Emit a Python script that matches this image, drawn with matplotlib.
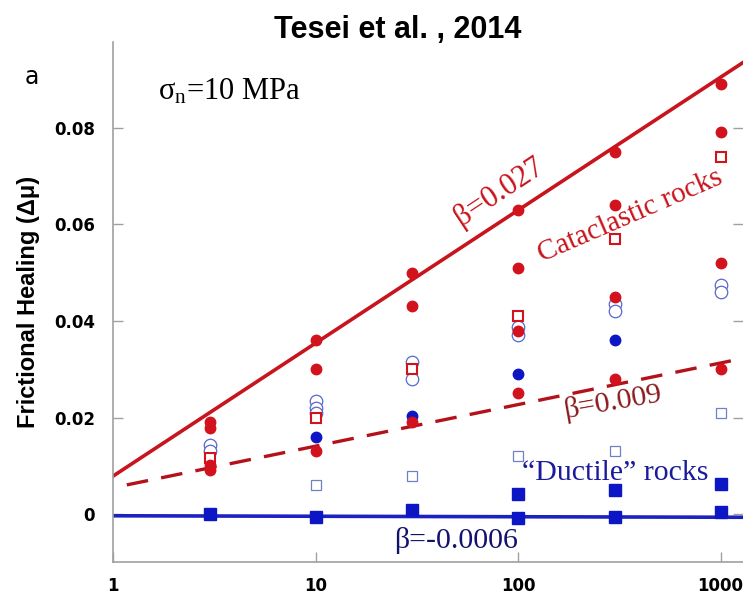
import numpy as np
import matplotlib
matplotlib.use("Agg")
import matplotlib.pyplot as plt
from matplotlib.ticker import FixedLocator, FixedFormatter, NullLocator

plt.rcParams['mathtext.fontset'] = 'custom'
plt.rcParams['mathtext.rm'] = 'Liberation Serif'
plt.rcParams['mathtext.it'] = 'Liberation Serif:italic'

# ---------------- data ----------------
red_filled_x = [3, 3, 3, 3, 10, 10, 10, 30, 30, 30, 100, 100, 100, 100,
                300, 300, 300, 300, 1000, 1000, 1000, 1000]
red_filled_y = [0.019, 0.0178, 0.0102, 0.0092, 0.036, 0.030, 0.013, 0.050, 0.043, 0.019,
                0.063, 0.051, 0.038, 0.025, 0.075, 0.064, 0.045, 0.028,
                0.089, 0.079, 0.052, 0.030]

red_open_sq_x = [3, 10, 30, 100, 300, 1000]
red_open_sq_y = [0.0116, 0.020, 0.030, 0.041, 0.057, 0.074]

blue_open_circ_x = [3, 3, 10, 10, 10, 30, 30, 100, 100, 300, 300, 1000, 1000]
blue_open_circ_y = [0.0143, 0.013, 0.0235, 0.022, 0.021, 0.0315, 0.028,
                    0.0388, 0.037, 0.0435, 0.042, 0.0475, 0.046]

blue_filled_circ_x = [10, 30, 100, 300]
blue_filled_circ_y = [0.016, 0.0203, 0.029, 0.036]

blue_open_sq_x = [10, 30, 100, 300, 1000]
blue_open_sq_y = [0.006, 0.008, 0.012, 0.013, 0.021]

blue_filled_sq_x = [3, 10, 30, 100, 100, 300, 300, 1000, 1000]
blue_filled_sq_y = [0.0, -0.0005, 0.0009, 0.0042, -0.0007, 0.005, -0.0006, 0.0062, 0.0004]

# fitted trends: intercept at t=1, slope per decade
cata_fit = (0.0079, 0.0275)
mid_fit = (0.0055, 0.0086)
duct_fit = (-0.0003, -0.0001)

x_ticks = [1, 10, 100, 1000]
x_tick_labels = ["1", "10", "100", "1000"]
y_ticks = [0, 0.02, 0.04, 0.06, 0.08]
y_tick_labels = ["0", "0.02", "0.04", "0.06", "0.08"]

# ---------------- figure ----------------
fig = plt.figure(figsize=(7.43, 5.99), dpi=100)
ax = fig.add_axes([113 / 743, (599 - 561.7) / 599, 630 / 743, (561.7 - 42) / 599])
ax.set_xscale('log')
xmax = 10 ** 3.111
ax.set_xlim(1, xmax)
ax.set_ylim(-0.0098, 0.0977)

RED = '#d2121c'
LRED = '#c8141c'
DRED = '#b4121a'
BLUE = '#0c16c4'

# fit lines
xs = np.logspace(0, np.log10(xmax), 200)
ax.plot(xs, cata_fit[0] + cata_fit[1] * np.log10(xs), color=LRED, lw=2.6, zorder=2)
xs2 = np.logspace(np.log10(1.17), np.log10(xmax), 200)
ax.plot(xs2, mid_fit[0] + mid_fit[1] * np.log10(xs2), color=DRED, lw=2.4,
        dashes=(6.5, 4), zorder=2)
ax.plot(xs, duct_fit[0] + duct_fit[1] * np.log10(xs), color='#1a22c0', lw=2.6, zorder=2)

# markers
ax.plot(blue_open_circ_x, blue_open_circ_y, 'o', ms=9, mfc='white', mec='#5868cc',
        mew=0.9, ls='none', zorder=3)
ax.plot(red_open_sq_x, red_open_sq_y, 's', ms=6.5, mfc='white', mec=RED,
        mew=1.5, ls='none', zorder=4)
ax.plot(blue_open_sq_x, blue_open_sq_y, 's', ms=7.5, mfc='white', mec='#7080c4',
        mew=0.9, ls='none', zorder=3)
ax.plot(blue_filled_circ_x, blue_filled_circ_y, 'o', ms=7.5, color=BLUE,
        ls='none', zorder=5)
ax.plot(red_filled_x, red_filled_y, 'o', ms=7.5, color=RED, ls='none', zorder=5)
ax.plot(blue_filled_sq_x, blue_filled_sq_y, 's', ms=8, color=BLUE, ls='none', zorder=5)

# axes styling
for side in ['top', 'right']:
    ax.spines[side].set_visible(False)
for side in ['left', 'bottom']:
    ax.spines[side].set_color('#a0a0a0')
    ax.spines[side].set_linewidth(1.2)

ax.xaxis.set_major_locator(FixedLocator(x_ticks))
ax.xaxis.set_major_formatter(FixedFormatter(x_tick_labels))
ax.xaxis.set_minor_locator(NullLocator())
ax.yaxis.set_major_locator(FixedLocator(y_ticks))
ax.yaxis.set_major_formatter(FixedFormatter(y_tick_labels))
ax.tick_params(axis='both', which='major', direction='in', length=7, width=1,
               color='#a0a0a0', labelsize=12, pad=11)
ax.tick_params(axis='y', right=True, pad=13)
for lab in ax.get_xticklabels() + ax.get_yticklabels():
    lab.set_fontfamily('DejaVu Sans')
    lab.set_fontweight('bold')

# annotations
serif = 'Liberation Serif'
ax.text(80.5, 0.0667, "β=0.027", color=LRED, fontsize=22, family=serif,
        rotation=33.5, rotation_mode='anchor', ha='center', va='center')
ax.text(357, 0.0617, "Cataclastic rocks", color=LRED, fontsize=21, family=serif,
        rotation=23.5, rotation_mode='anchor', ha='center', va='center')
ax.text(294, 0.0232, "β=0.009", color='#8a1a1e', fontsize=21.5, family=serif,
        rotation=10, rotation_mode='anchor', ha='center', va='center')
ax.text(301, 0.0085, "\u201cDuctile\u201d rocks", color='#1a1a9c', fontsize=21.5,
        family=serif, ha='center', va='center')
ax.text(49.4, -0.0055, "β=-0.0006", color='#12126e', fontsize=21.5, family=serif,
        ha='center', va='center')

fig.text(158 / 743, 1 - 92 / 599, r"σ$_{\mathrm{n}}$=10 MPa", fontsize=22,
         family=serif, ha='left', va='center')
fig.text(32 / 743, 1 - 77 / 599, "a", fontsize=17, family='DejaVu Sans',
         ha='center', va='center')
fig.text(398 / 743, 1 - 30 / 599, "Tesei et al. , 2014", fontsize=22,
         family='Liberation Sans', fontweight='bold', ha='center', va='center')
fig.text(29 / 743, 1 - 302 / 599, "Frictional Healing (Δμ)", fontsize=17,
         family='Liberation Sans', fontweight='bold', rotation=90,
         ha='center', va='center')

fig.savefig('out.png', dpi=100)
